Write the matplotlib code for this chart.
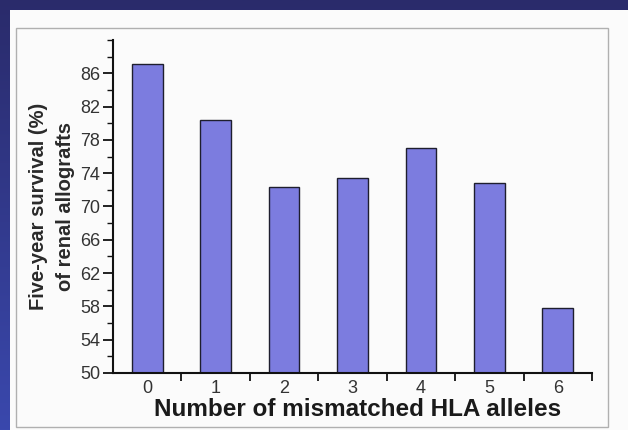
import numpy as np
import matplotlib
matplotlib.use("Agg")
import matplotlib.pyplot as plt
from matplotlib.patches import Rectangle

# datos
alelos = [0, 1, 2, 3, 4, 5, 6]
supervivencia = [87.1, 80.4, 72.3, 73.4, 77.0, 72.8, 57.8]
ticks_y = [50, 54, 58, 62, 66, 70, 74, 78, 82, 86]

plt.rcParams['font.family'] = ['Liberation Sans', 'DejaVu Sans']

W, H = 628, 430
fig = plt.figure(figsize=(W / 100, H / 100), dpi=100)

# fondo azul con degradado (marco de la diapositiva)
fondo = fig.add_axes([0, 0, 1, 1], zorder=-10)
grad = np.linspace(0, 1, 256).reshape(-1, 1)
cmap = matplotlib.colors.LinearSegmentedColormap.from_list("azul", ["#2a2b6b", "#3a48ad"])
fondo.imshow(grad, aspect="auto", cmap=cmap, extent=[0, 1, 0, 1], origin="upper")
fondo.set_xlim(0, 1)
fondo.set_ylim(0, 1)
fondo.axis("off")

# hoja blanca y marco gris
fondo.add_patch(Rectangle((10 / W, 0), 1, 1 - 10 / H, facecolor="#fbfbfb", edgecolor="none"))
fondo.add_patch(Rectangle((16 / W, 3 / H), (608 - 16) / W, (427 - 28) / H,
                          facecolor="none", edgecolor="#b0b0b0", linewidth=1.0))

ax = fig.add_axes([113 / W, 57 / H, (592 - 113) / W, (373 - 40) / H])
ax.set_facecolor("none")

ax.bar(alelos, supervivencia, width=0.45, bottom=0, color="#7c7cdf",
       edgecolor="#1e1e2e", linewidth=1.0)

ax.set_ylim(50, 90)
ax.set_xlim(-0.5, 6.5)

for s in ["top", "right"]:
    ax.spines[s].set_visible(False)
for s in ["left", "bottom"]:
    ax.spines[s].set_linewidth(1.5)
    ax.spines[s].set_color("#111111")

ax.set_yticks(ticks_y)
ax.set_yticklabels([str(t) for t in ticks_y], fontsize=13, color="#333333")
ax.set_yticks(np.arange(50, 91, 2), minor=True)
ax.tick_params(axis="y", which="major", length=7, width=1.3, color="#111111", pad=2)
ax.tick_params(axis="y", which="minor", length=4, width=1.0, color="#111111")

ax.set_xticks(alelos)
ax.set_xticklabels([str(a) for a in alelos], fontsize=13, color="#333333")
ax.tick_params(axis="x", which="major", length=0, pad=5)
ax.tick_params(axis="x", which="minor", length=6, width=1.3, color="#111111")
ax.set_xticks(list(np.array(alelos) + 0.5), minor=True)

ax.set_xlabel("Number of mismatched HLA alleles", fontsize=17.5, fontweight="bold",
              color="#1a1a1a", labelpad=1)
ax.xaxis.set_label_coords(0.51, -0.075)
ax.set_ylabel("Five-year survival (%)\nof renal allografts", fontsize=14.5,
              fontweight="bold", color="#2a2a2a", labelpad=4, linespacing=1.5)

fig.savefig("out.png", dpi=100)
